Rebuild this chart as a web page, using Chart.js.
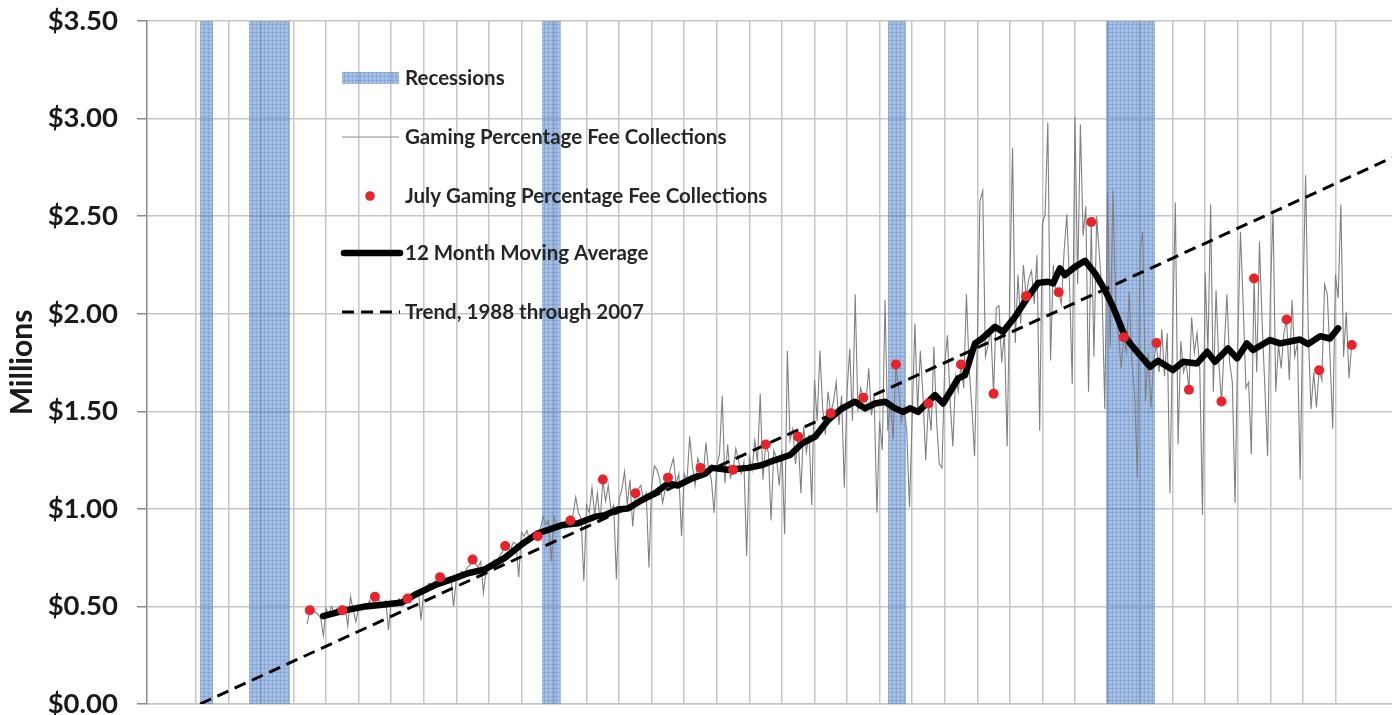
<!DOCTYPE html>
<html>
<head>
<meta charset="utf-8">
<title>Gaming Percentage Fee Collections</title>
<script src="https://cdn.jsdelivr.net/npm/chart.js@4.4.1/dist/chart.umd.min.js"></script>
<style>
  html, body { margin: 0; padding: 0; background: #fff; overflow: hidden; }
  #wrap { width: 1392px; height: 715px; position: relative; }
</style>
</head>
<body>
<div id="wrap"><canvas id="feeChart"></canvas></div>
<script>
// monthly collections ($ millions), June 1983 through July 2015
const firstMonth = { year: 1983, month: 6 };
const monthlyFees = [
  0.41, 0.48, 0.49, 0.47, 0.46, 0.44, 0.35,                                  // 1983 Jun-Dec
  0.49, 0.46, 0.50, 0.47, 0.49, 0.46, 0.48, 0.50, 0.40, 0.55, 0.48, 0.42,  // 1984
  0.50, 0.48, 0.51, 0.49, 0.53, 0.50, 0.55, 0.54, 0.52, 0.51, 0.53, 0.38,  // 1985
  0.53, 0.51, 0.52, 0.54, 0.50, 0.53, 0.54, 0.56, 0.55, 0.57, 0.58, 0.43,  // 1986
  0.58, 0.60, 0.62, 0.61, 0.63, 0.62, 0.65, 0.66, 0.64, 0.63, 0.65, 0.50,  // 1987
  0.64, 0.66, 0.68, 0.67, 0.70, 0.71, 0.74, 0.72, 0.70, 0.73, 0.57, 0.69,  // 1988
  0.71, 0.70, 0.74, 0.72, 0.76, 0.78, 0.81, 0.80, 0.79, 0.83, 0.82, 0.65,  // 1989
  0.88, 0.86, 0.89, 0.84, 0.87, 0.85, 0.86, 0.90, 0.96, 0.92, 0.94, 0.73,  // 1990
  0.96, 0.92, 0.91, 0.93, 0.90, 0.95, 0.94, 0.97, 1.06, 0.98, 0.95, 0.63,  // 1991
  1.02, 0.98, 1.11, 0.97, 1.08, 0.93, 1.15, 1.04, 1.12, 0.99, 1.02, 0.64,  // 1992
  1.05, 1.10, 1.19, 1.02, 1.15, 0.91, 1.08, 1.10, 1.12, 1.04, 1.08, 0.70,  // 1993
  1.12, 1.22, 1.20, 1.15, 1.03, 1.10, 1.16, 1.21, 1.26, 1.13, 1.18, 0.86,  // 1994
  1.18, 1.14, 1.37, 1.22, 1.12, 1.26, 1.21, 1.17, 1.34, 1.20, 1.15, 0.98,  // 1995
  1.22, 1.28, 1.58, 1.13, 1.33, 1.16, 1.20, 1.31, 1.25, 1.18, 1.24, 0.76,  // 1996
  1.27, 1.20, 1.35, 1.24, 1.59, 1.15, 1.33, 1.29, 0.94, 1.30, 1.26, 1.12,  // 1997
  1.30, 0.87, 1.81, 1.35, 1.41, 1.23, 1.37, 1.08, 1.42, 1.29, 1.38, 1.02,  // 1998
  1.66, 1.45, 1.81, 1.52, 1.38, 1.60, 1.49, 1.55, 1.65, 1.43, 1.58, 1.11,  // 1999
  1.60, 1.82, 1.45, 2.10, 1.50, 1.62, 1.57, 1.55, 1.72, 1.48, 1.58, 0.98,  // 2000
  1.45, 1.30, 2.07, 1.40, 1.55, 1.36, 1.74, 1.62, 1.45, 1.52, 1.40, 1.01,  // 2001
  1.46, 1.95, 1.50, 1.81, 1.58, 1.25, 1.54, 1.40, 1.83, 1.45, 1.23, 1.21,  // 2002
  1.74, 1.89, 1.55, 1.32, 1.68, 1.60, 1.74, 1.62, 2.10, 1.72, 1.52, 1.27,  // 2003
  1.85, 2.58, 2.63, 1.78, 1.84, 1.92, 1.59, 2.03, 2.04, 1.75, 1.90, 1.32,  // 2004
  2.14, 2.85, 1.85, 2.20, 1.95, 2.25, 2.09, 2.18, 2.22, 2.05, 2.30, 1.40,  // 2005
  2.46, 2.51, 2.98, 1.76, 2.25, 2.10, 2.11, 2.05, 2.32, 2.51, 2.15, 1.64,  // 2006
  3.01, 2.15, 2.97, 2.40, 2.55, 1.60, 2.47, 1.78, 2.50, 2.30, 2.10, 1.51,  // 2007
  2.62, 1.83, 2.63, 2.05, 1.90, 1.72, 1.88, 1.80, 2.11, 1.75, 1.59, 1.16,  // 2008
  2.33, 2.42, 1.55, 1.80, 1.52, 1.75, 1.85, 1.70, 1.92, 1.68, 1.90, 1.08,  // 2009
  1.92, 2.57, 1.33, 1.86, 1.70, 1.75, 1.61, 1.98, 1.80, 1.90, 1.72, 0.97,  // 2010
  2.21, 1.80, 2.56, 1.60, 2.12, 1.75, 1.55, 1.82, 2.10, 1.75, 1.65, 1.03,  // 2011
  1.85, 2.42, 2.05, 1.62, 1.65, 1.28, 2.18, 1.70, 2.37, 1.95, 1.62, 1.27,  // 2012
  2.09, 2.53, 1.60, 1.84, 1.72, 1.90, 1.97, 1.66, 2.07, 1.78, 1.85, 1.15,  // 2013
  2.03, 2.71, 1.90, 1.51, 1.70, 1.52, 1.71, 1.66, 2.15, 2.10, 1.78, 1.41,  // 2014
  2.20, 2.08, 2.56, 1.78, 2.01, 1.67, 1.84                                   // 2015 Jan-Jul
];

// July collections, 1983-2015
const julyYears = [];
for (let y = 1983; y <= 2015; y++) julyYears.push(y);
const julyFees = [
  0.48, 0.48, 0.55, 0.54, 0.65, 0.74, 0.81, 0.86, 0.94, 1.15, 1.08,
  1.16, 1.21, 1.20, 1.33, 1.37, 1.49, 1.57, 1.74, 1.54, 1.74, 1.59,
  2.09, 2.11, 2.47, 1.88, 1.85, 1.61, 1.55, 2.18, 1.97, 1.71, 1.84
];

// centered 12 month moving average (decimal years)
const maYears = [
  1983.91, 1984.58, 1985.20, 1985.81, 1986.33, 1986.73, 1987.35, 1987.87, 1988.36, 1988.88,
  1989.50, 1990.02, 1990.51, 1991.25, 1991.74, 1992.26, 1992.57, 1992.97, 1993.27, 1993.70,
  1994.10, 1994.50, 1994.81, 1995.24, 1995.64, 1995.85, 1996.34, 1996.96, 1997.39, 1997.79,
  1998.25, 1998.62, 1999.02, 1999.42, 1999.85, 2000.24, 2000.55, 2000.86, 2001.17, 2001.47,
  2001.72, 2001.93, 2002.18, 2002.70, 2002.95, 2003.41, 2003.62, 2003.93, 2004.15, 2004.54,
  2004.79, 2005.16, 2005.56, 2005.87, 2006.17, 2006.33, 2006.54, 2006.69, 2007.00, 2007.31,
  2007.62, 2007.92, 2008.17, 2008.54, 2008.78, 2009.31, 2009.55, 2010.01, 2010.32, 2010.75,
  2011.06, 2011.30, 2011.70, 2011.98, 2012.28, 2012.47, 2012.99, 2013.30, 2013.91, 2014.16,
  2014.53, 2014.83, 2015.08
];
const maValues = [
  0.45, 0.48, 0.50, 0.51, 0.52, 0.56, 0.61, 0.64, 0.67, 0.69,
  0.75, 0.82, 0.875, 0.917, 0.926, 0.96, 0.968, 0.997, 1.002, 1.045,
  1.08, 1.13, 1.12, 1.156, 1.18, 1.21, 1.20, 1.21, 1.225, 1.25,
  1.276, 1.335, 1.37, 1.455, 1.515, 1.549, 1.515, 1.54, 1.549, 1.515,
  1.497, 1.515, 1.497, 1.583, 1.54, 1.668, 1.685, 1.848, 1.873, 1.933,
  1.907, 1.984, 2.087, 2.158, 2.164, 2.155, 2.232, 2.198, 2.240, 2.271,
  2.206, 2.121, 2.035, 1.882, 1.830, 1.728, 1.759, 1.711, 1.754, 1.745,
  1.805, 1.754, 1.822, 1.771, 1.848, 1.814, 1.865, 1.848, 1.868, 1.844,
  1.885, 1.873, 1.925
];

// linear trend fitted 1988-2007, end points
const trendYears = [1980.13, 2016.74];
const trendValues = [0.00, 2.80];

// recessions (decimal years)
const recessionStart = [1980.13, 1981.63, 1990.63, 2001.26, 2007.95];
const recessionEnd   = [1980.53, 1982.89, 1991.21, 2001.81, 2009.46];

const yTicks = [0, 0.5, 1, 1.5, 2, 2.5, 3, 3.5];

// ---- build datasets ----
const monthlyPoints = monthlyFees.map((v, i) => ({
  x: firstMonth.year + (firstMonth.month - 1 + i) / 12,
  y: v
}));
const julyPoints = julyFees.map((v, i) => ({ x: julyYears[i] + 0.5, y: v }));
const maPoints = maValues.map((v, i) => ({ x: maYears[i], y: v }));
const trendPoints = trendValues.map((v, i) => ({ x: trendYears[i], y: v }));

// hatched blue fill for the recession bands
function makeRecessionPattern() {
  const c = document.createElement('canvas');
  c.width = 4; c.height = 4;
  const g = c.getContext('2d');
  g.fillStyle = 'rgba(79,129,199,0.52)';
  g.fillRect(0, 0, 4, 4);
  g.fillStyle = 'rgba(60,110,190,0.2)';
  g.fillRect(0, 0, 1, 4);
  g.fillRect(0, 0, 4, 1);
  g.fillStyle = 'rgba(255,255,255,0.18)';
  g.fillRect(2, 2, 1, 1);
  return g.createPattern(c, 'repeat');
}
const recessionFill = makeRecessionPattern();

const recessionSets = recessionStart.map((s, i) => ({
  label: 'Recessions',
  data: [{ x: s, y: 3.5 }, { x: recessionEnd[i], y: 3.5 }],
  borderWidth: 0,
  borderColor: 'rgba(0,0,0,0)',
  backgroundColor: recessionFill,
  fill: 'origin',
  pointRadius: 0,
  order: 10
}));

const MAX_X = 1978.5 + (1392 - 147) / 32.56;

const insideLegend = {
  id: 'insideLegend',
  afterDatasetsDraw(chart) {
    const ctx = chart.ctx;
    ctx.save();
    const x0 = 342, x1 = 399, tx = 405;
    // Recessions patch
    ctx.fillStyle = recessionFill;
    ctx.fillRect(x0, 72, x1 - x0, 12);
    // monthly grey line
    ctx.strokeStyle = '#8a8a8a';
    ctx.lineWidth = 1;
    ctx.beginPath(); ctx.moveTo(x0, 137); ctx.lineTo(x1, 137); ctx.stroke();
    // July dot
    ctx.fillStyle = '#e8232a';
    ctx.beginPath(); ctx.arc(370, 196, 4.8, 0, Math.PI * 2); ctx.fill();
    // moving average
    ctx.strokeStyle = '#000';
    ctx.lineWidth = 6.5;
    ctx.lineCap = 'round';
    ctx.beginPath(); ctx.moveTo(x0 + 2, 253); ctx.lineTo(x1 + 1, 253); ctx.stroke();
    // trend
    ctx.lineCap = 'butt';
    ctx.lineWidth = 3;
    ctx.setLineDash([12, 7]);
    ctx.beginPath(); ctx.moveTo(x0, 312); ctx.lineTo(x1 + 1, 312); ctx.stroke();
    ctx.setLineDash([]);

    ctx.fillStyle = '#262626';
    ctx.font = 'bold 20.5px Lato';
    ctx.textBaseline = 'middle';
    ctx.textAlign = 'left';
    ctx.fillText('Recessions', tx, 78);
    ctx.fillText('Gaming Percentage Fee Collections', tx, 137);
    ctx.fillText('July Gaming Percentage Fee Collections', tx, 196);
    ctx.fillText('12 Month Moving Average', tx, 253);
    ctx.fillText('Trend, 1988 through 2007', tx, 312);
    ctx.restore();
  }
};

new Chart(document.getElementById('feeChart').getContext('2d'), {
  type: 'line',
  data: {
    datasets: [
      {
        label: 'July Gaming Percentage Fee Collections',
        data: julyPoints,
        showLine: false,
        pointRadius: 5,
        pointBackgroundColor: '#e8232a',
        pointBorderWidth: 0,
        order: 1
      },
      {
        label: '12 Month Moving Average',
        data: maPoints,
        borderColor: '#000',
        borderWidth: 6.5,
        borderJoinStyle: 'round',
        borderCapStyle: 'round',
        pointRadius: 0,
        fill: false,
        order: 2
      },
      {
        label: 'Trend, 1988 through 2007',
        data: trendPoints,
        borderColor: '#000',
        borderWidth: 3,
        borderDash: [12, 7],
        pointRadius: 0,
        fill: false,
        order: 3
      },
      {
        label: 'Gaming Percentage Fee Collections',
        data: monthlyPoints,
        borderColor: '#808080',
        borderWidth: 1.1,
        pointRadius: 0,
        fill: false,
        order: 4
      },
      ...recessionSets
    ]
  },
  options: {
    responsive: true,
    maintainAspectRatio: false,
    animation: false,
    layout: { autoPadding: false, padding: { top: 21, right: 0, bottom: 11, left: 0 } },
    plugins: {
      legend: { display: false },
      tooltip: { enabled: false }
    },
    scales: {
      x: {
        type: 'linear',
        min: 1978.5,
        max: MAX_X,
        ticks: { display: false, stepSize: 1 },
        afterBuildTicks: scale => {
          scale.ticks = scale.ticks.filter(t => Number.isInteger(t.value));
        },
        afterFit: scale => { scale.height = 0; },
        grid: { color: '#c6c6c6', lineWidth: 1.5, drawTicks: false },
        border: { display: true, color: '#c6c6c6', width: 1.5 }
      },
      y: {
        min: 0,
        max: 3.5,
        afterBuildTicks: scale => {
          scale.ticks = yTicks.map(v => ({ value: v }));
        },
        afterFit: scale => {
          scale.width = 147;
          scale.paddingTop = 0;
          scale.paddingBottom = 0;
        },
        ticks: {
          padding: 19,
          color: '#1a1a1a',
          font: { family: 'Lato', weight: 'bold', size: 27.5 },
          callback: v => '$' + Number(v).toFixed(2)
        },
        grid: { color: '#c6c6c6', lineWidth: 1.5, tickLength: 10, tickColor: '#8c8c8c' },
        border: { display: true, color: '#8c8c8c', width: 1.5 },
        title: {
          display: true,
          text: 'Millions',
          color: '#1a1a1a',
          font: { family: 'Lato', weight: 'bold', size: 30 },
          padding: { top: 4, bottom: 0 }
        }
      }
    }
  },
  plugins: [insideLegend]
});
</script>
</body>
</html>
